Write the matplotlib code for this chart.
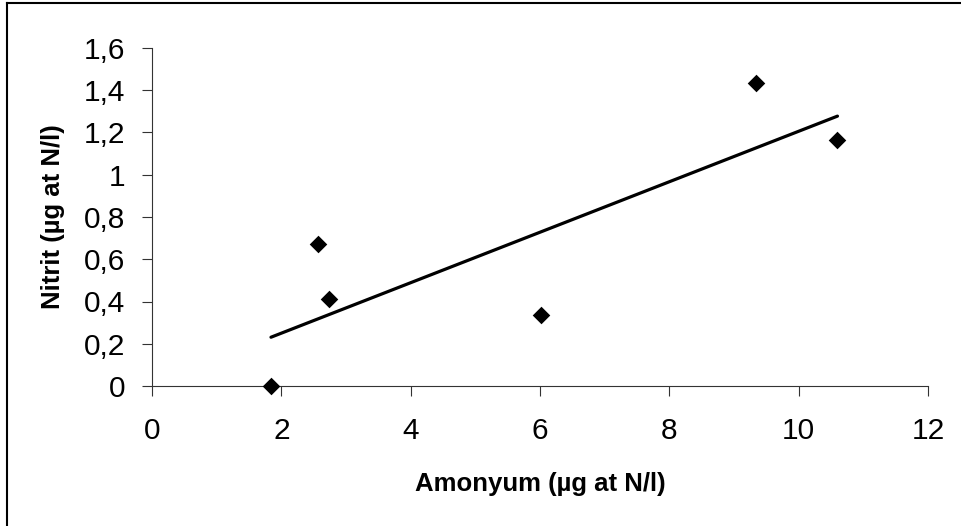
import matplotlib
matplotlib.use('Agg')
import matplotlib.pyplot as plt
from matplotlib.lines import Line2D
from matplotlib.ticker import FuncFormatter
import numpy as np

# data
amonyum = [1.84, 2.57, 2.73, 6.02, 9.34, 10.60]
nitrit = [0.00, 0.671, 0.413, 0.338, 1.436, 1.163]

plt.rcParams.update({'font.family': ['Liberation Sans', 'DejaVu Sans']})

W, H = 961, 526
fig = plt.figure(figsize=(W / 100, H / 100), dpi=100)
ax = fig.add_axes([152 / W, 1 - 386 / H, (928 - 152) / W, (386 - 48) / H])

ax.scatter(amonyum, nitrit, marker='D', s=80, color='black', zorder=3,
           clip_on=False, linewidths=0)

# linear trendline
k, b = np.polyfit(amonyum, nitrit, 1)
xs = np.array([min(amonyum), max(amonyum)])
ax.plot(xs, k * xs + b, color='black', lw=2.3, solid_capstyle='round')

ax.set_xlim(0, 12)
ax.set_ylim(0, 1.6)
ax.set_xticks(np.arange(0, 13, 2))
ax.set_yticks(np.arange(0, 1.61, 0.2))
ax.yaxis.set_major_formatter(FuncFormatter(
    lambda v, p: ('%g' % round(v, 1)).replace('.', ',')))

for s in ('top', 'right'):
    ax.spines[s].set_visible(False)
for s in ('left', 'bottom'):
    ax.spines[s].set_linewidth(0.8)
    ax.spines[s].set_color('#333333')

ax.tick_params(axis='both', direction='out', length=7, width=0.8,
               color='#333333', labelsize=21.5)
ax.tick_params(axis='y', pad=12)
ax.tick_params(axis='x', pad=15)

ax.set_xlabel('Amonyum (µg at N/l)', fontsize=18.5, fontweight='bold', labelpad=20)
ax.set_ylabel('Nitrit (µg at N/l)', fontsize=18.5, fontweight='bold', labelpad=14)

# chart frame: only left and top edges are inside the crop
fig.lines.append(Line2D([7 / W, 7 / W], [0, 1 - 3 / H], transform=fig.transFigure,
                        color='black', lw=1.5))
fig.lines.append(Line2D([7 / W, 1], [1 - 3 / H, 1 - 3 / H], transform=fig.transFigure,
                        color='black', lw=1.5))

fig.savefig('out.png', dpi=100)
